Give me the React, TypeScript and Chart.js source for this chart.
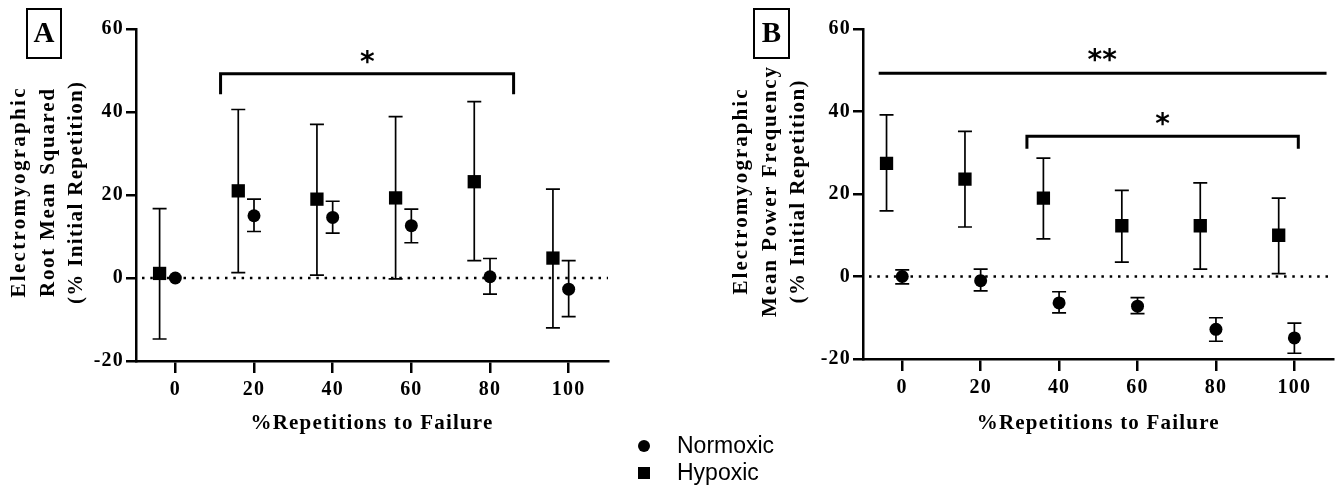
import React, { useEffect, useRef } from 'react';
import { Chart, registerables } from 'chart.js';

Chart.register(...registerables);

// ---------- data ----------
const categories = [0, 20, 40, 60, 80, 100];
const xTicks = [0, 20, 40, 60, 80, 100];
const yTicks = [-20, 0, 20, 40, 60];
const hypoxicOffset = -4;

const xTitle = '%Repetitions to Failure';

// Panel A: Root Mean Squared
const aTitle = ['Electromyographic', 'Root Mean Squared', '(% Initial Repetition)'];
const aNormMean = [0, 15, 14.6, 12.6, 0.3, -2.7];
const aNormLow = [0, 11.2, 10.8, 8.5, -3.9, -9.3];
const aNormHigh = [0, 19, 18.5, 16.6, 4.7, 4.2];
const aHypMean = [1.1, 21, 19, 19.3, 23.2, 4.8];
const aHypLow = [-14.7, 1.3, 0.7, -0.2, 4.2, -12];
const aHypHigh = [16.7, 40.6, 37, 38.9, 42.5, 21.4];

// Panel B: Mean Power Frequency
const bTitle = ['Electromyographic', 'Mean Power Frequency', '(% Initial Repetition)'];
const bNormMean = [0, -1, -6.4, -7.2, -12.8, -14.9];
const bNormLow = [-1.8, -3.5, -8.8, -9, -15.7, -18.6];
const bNormHigh = [1.6, 1.8, -3.7, -5.1, -10, -11.3];
const bHypMean = [27.4, 23.6, 19, 12.3, 12.3, 10];
const bHypLow = [15.9, 12, 9.1, 3.5, 1.8, 0.7];
const bHypHigh = [39.2, 35.2, 28.7, 20.9, 22.7, 19];

// significance marks (data units)
const aSignif = [{ x1: 11.5, x2: 86, y: 49.2, leg: 44.3 as number | null, label: '*', lx: 48.8, ly: 53.7 }];
const bSignif = [
  { x1: -6, x2: 108.2, y: 49.3, leg: null as number | null, label: '**', lx: 51, ly: 54 },
  { x1: 31.8, x2: 101, y: 34, leg: 31 as number | null, label: '*', lx: 66.4, ly: 38.6 },
];

// ---------- styling ----------
const SERIF = '"Liberation Serif", "Times New Roman", serif';
const LS = '1.2px';

type Signif = { x1: number; x2: number; y: number; leg: number | null; label: string; lx: number; ly: number };
type Panel = {
  letter: string;
  box: [number, number, number, number];
  yTitle: string[];
  yTitleWidths: number[];
  normMean: number[]; normLow: number[]; normHigh: number[];
  hypMean: number[]; hypLow: number[]; hypHigh: number[];
  signif: Signif[];
  yAxisWidth: number;
  xAxisHeight: number;
  padRight: number;
  width: number;
};

function decorPlugin(p: Panel) {
  return {
    id: 'decor' + p.letter,
    beforeUpdate(chart: any) { chart.ctx.letterSpacing = LS; },
    beforeLayout(chart: any) { chart.ctx.letterSpacing = LS; },
    beforeDraw(chart: any) { chart.ctx.letterSpacing = LS; },
    beforeDatasetsDraw(chart: any) {
      const { ctx, chartArea } = chart;
      const x = chart.scales.x, y = chart.scales.y;
      ctx.save();
      // dotted zero line
      const y0 = y.getPixelForValue(0);
      ctx.strokeStyle = '#000';
      ctx.lineWidth = 2.5;
      ctx.setLineDash([2.5, 5.8]);
      ctx.beginPath();
      ctx.moveTo(chartArea.left + 6, y0);
      ctx.lineTo(chartArea.right, y0);
      ctx.stroke();
      ctx.setLineDash([]);
      // error bars
      const sets = [
        { off: hypoxicOffset, lo: p.hypLow, hi: p.hypHigh },
        { off: 0, lo: p.normLow, hi: p.normHigh },
      ];
      ctx.lineWidth = 1.7;
      sets.forEach((s) => {
        categories.forEach((c, i) => {
          if (s.lo[i] === s.hi[i]) return;
          const px = x.getPixelForValue(c + s.off);
          const pl = y.getPixelForValue(s.lo[i]);
          const ph = y.getPixelForValue(s.hi[i]);
          ctx.beginPath();
          ctx.moveTo(px, pl); ctx.lineTo(px, ph);
          ctx.moveTo(px - 7, pl); ctx.lineTo(px + 7, pl);
          ctx.moveTo(px - 7, ph); ctx.lineTo(px + 7, ph);
          ctx.stroke();
        });
      });
      ctx.restore();
    },
    afterDraw(chart: any) {
      const { ctx, chartArea } = chart;
      const x = chart.scales.x, y = chart.scales.y;
      ctx.save();
      ctx.letterSpacing = '0px';
      ctx.strokeStyle = '#000';
      ctx.fillStyle = '#000';
      ctx.lineWidth = 3;
      ctx.lineJoin = 'miter';
      p.signif.forEach((b) => {
        const x1 = x.getPixelForValue(b.x1);
        const x2 = x.getPixelForValue(b.x2);
        const yt = y.getPixelForValue(b.y);
        ctx.beginPath();
        if (b.leg !== null) {
          const yl = y.getPixelForValue(b.leg);
          ctx.moveTo(x1, yl); ctx.lineTo(x1, yt); ctx.lineTo(x2, yt); ctx.lineTo(x2, yl);
        } else {
          ctx.moveTo(x1, yt); ctx.lineTo(x2, yt);
        }
        ctx.stroke();
        const fs = 28;
        ctx.font = `bold ${fs}px "DejaVu Sans"`;
        ctx.textAlign = 'center';
        ctx.textBaseline = 'alphabetic';
        ctx.fillText(b.label, x.getPixelForValue(b.lx), y.getPixelForValue(b.ly) + 0.55 * fs);
      });
      // panel letter box
      const [bx, by, bw, bh] = p.box;
      ctx.lineWidth = 2;
      ctx.strokeRect(bx, by, bw, bh);
      ctx.font = `bold 29px ${SERIF}`;
      ctx.textAlign = 'center';
      ctx.textBaseline = 'middle';
      ctx.fillText(p.letter, bx + bw / 2, by + bh / 2 + 1);

      // y-axis title: three rotated lines, letter-spaced to their printed lengths
      ctx.font = `bold 21px ${SERIF}`;
      const cy = (chartArea.top + chartArea.bottom) / 2 - 2;
      p.yTitle.forEach((line, i) => {
        ctx.letterSpacing = '0px';
        const natural = ctx.measureText(line).width;
        const ls = Math.max(0, (p.yTitleWidths[i] - natural) / Math.max(1, line.length - 1));
        ctx.letterSpacing = ls + 'px';
        const cx = 20 + i * 28.5;
        ctx.save();
        ctx.translate(cx, cy);
        ctx.rotate(-Math.PI / 2);
        ctx.textAlign = 'center';
        ctx.textBaseline = 'middle';
        ctx.fillText(line, ls / 2, 0);
        ctx.restore();
      });
      ctx.restore();
    },
  };
}

function buildChart(canvas: HTMLCanvasElement, p: Panel) {
  const tickFont = { family: SERIF, size: 20, weight: 'bold' as const };
  const titleFont = { family: SERIF, size: 21, weight: 'bold' as const };
  return new Chart(canvas, {
    type: 'scatter',
    data: {
      datasets: [
        {
          label: 'Hypoxic',
          data: categories.map((c, i) => ({ x: c + hypoxicOffset, y: p.hypMean[i] })),
          pointStyle: 'rect',
          pointRadius: 9.4,
          pointHoverRadius: 9.4,
          backgroundColor: '#000',
          borderColor: '#000',
          borderWidth: 0,
        },
        {
          label: 'Normoxic',
          data: categories.map((c, i) => ({ x: c, y: p.normMean[i] })),
          pointStyle: 'circle',
          pointRadius: 6.5,
          pointHoverRadius: 6.5,
          backgroundColor: '#000',
          borderColor: '#000',
          borderWidth: 0,
        },
      ],
    },
    options: {
      animation: false,
      responsive: false,
      events: [],
      layout: { padding: { left: 0, top: 29, right: p.padRight, bottom: 0 } },
      plugins: { legend: { display: false }, tooltip: { enabled: false } },
      scales: {
        x: {
          type: 'linear',
          min: -10,
          max: 110,
          afterBuildTicks: (s: any) => { s.ticks = xTicks.map((v) => ({ value: v })); },
          afterFit: (s: any) => { s.height = p.xAxisHeight; },
          grid: { drawOnChartArea: false, drawTicks: true, tickLength: 12, color: '#000', lineWidth: 2.5 },
          border: { display: true, color: '#000', width: 2.5 },
          ticks: { color: '#000', font: tickFont, padding: 5 },
          title: { display: true, text: xTitle, color: '#000', font: titleFont, padding: { top: 0, bottom: 50 } },
        },
        y: {
          type: 'linear',
          min: -20,
          max: 60,
          afterBuildTicks: (s: any) => { s.ticks = yTicks.map((v) => ({ value: v })); },
          afterFit: (s: any) => { s.width = p.yAxisWidth; },
          grid: { drawOnChartArea: false, drawTicks: true, tickLength: 10, color: '#000', lineWidth: 2.5 },
          border: { display: true, color: '#000', width: 2.5 },
          ticks: { color: '#000', font: tickFont, padding: 2 },
          title: { display: false },
        },
      },
    } as any,
    plugins: [decorPlugin(p)],
  });
}

const panelA: Panel = {
  letter: 'A', box: [27, 9, 34, 49], yTitle: aTitle, yTitleWidths: [209, 208, 222],
  normMean: aNormMean, normLow: aNormLow, normHigh: aNormHigh,
  hypMean: aHypMean, hypLow: aHypLow, hypHigh: aHypHigh,
  signif: aSignif, yAxisWidth: 136, xAxisHeight: 125, padRight: 32, width: 640,
};
const panelB: Panel = {
  letter: 'B', box: [32, 9, 35, 49], yTitle: bTitle, yTitleWidths: [205, 250, 223],
  normMean: bNormMean, normLow: bNormLow, normHigh: bNormHigh,
  hypMean: bHypMean, hypLow: bHypLow, hypHigh: bHypHigh,
  signif: bSignif, yAxisWidth: 141, xAxisHeight: 127, padRight: 9, width: 621,
};

function PanelChart({ p, left }: { p: Panel; left: number }) {
  const ref = useRef<HTMLCanvasElement | null>(null);
  useEffect(() => {
    if (!ref.current) return;
    const c = buildChart(ref.current, p);
    return () => c.destroy();
  }, [p]);
  return (
    <canvas
      ref={ref}
      width={p.width}
      height={486}
      style={{ position: 'absolute', left, top: 0, width: p.width, height: 486 }}
    />
  );
}

const legendFont = '"Liberation Sans", Arial, sans-serif';

export default function App() {
  return (
    <div style={{ position: 'absolute', left: 0, top: 0, width: 1343, height: 486, background: '#fff', overflow: 'hidden' }}>
      <PanelChart p={panelA} left={0} />
      <PanelChart p={panelB} left={722} />
      <div style={{ position: 'absolute', left: 638, top: 440, width: 12, height: 12, borderRadius: '50%', background: '#000' }} />
      <div style={{ position: 'absolute', left: 638, top: 467, width: 12, height: 12, background: '#000' }} />
      <div style={{ position: 'absolute', left: 677, top: 433, font: `23px ${legendFont}`, lineHeight: '24px', color: '#000', whiteSpace: 'nowrap' }}>Normoxic</div>
      <div style={{ position: 'absolute', left: 677, top: 460, font: `23px ${legendFont}`, lineHeight: '24px', color: '#000', whiteSpace: 'nowrap' }}>Hypoxic</div>
    </div>
  );
}
